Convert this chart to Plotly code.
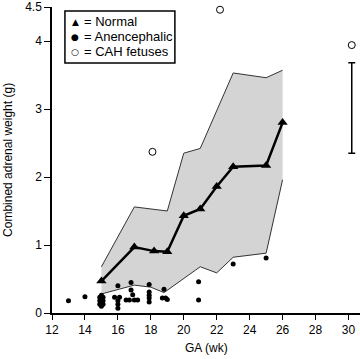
import plotly.graph_objects as go

# Normal fetuses (mean line with triangles)
normal_ga = [15, 17, 18.2, 19, 20, 21, 22, 23, 25, 26]
normal_wt = [0.47, 0.97, 0.91, 0.90, 1.43, 1.53, 1.86, 2.15, 2.17, 2.80]

# Normal range band
upper_ga = [15, 17, 19, 20, 21, 23, 25, 26]
upper_wt = [0.68, 1.56, 1.50, 2.35, 2.42, 3.53, 3.46, 3.57]
lower_ga = [15, 17, 18, 18.8, 21, 22, 23, 25, 26]
lower_wt = [0.28, 0.41, 0.38, 0.30, 0.68, 0.59, 0.82, 0.88, 1.96]

# Anencephalic fetuses
anen_ga = [13, 14, 15, 14.9, 15.1, 14.9, 15.1, 14.9, 15.1, 15,
           16, 15.8, 16.1, 16, 16, 16, 16.5,
           16.8, 16.8, 16.9, 16.7, 17.0, 17.2,
           17.9, 17.9, 17.9, 17.9, 17.9,
           18.8, 18.7, 18.9, 19.0,
           20.9, 20.9, 23, 25]
anen_wt = [0.18, 0.24, 0.26, 0.23, 0.23, 0.18, 0.18, 0.13, 0.13, 0.10,
           0.40, 0.23, 0.23, 0.18, 0.13, 0.07, 0.19,
           0.45, 0.34, 0.27, 0.19, 0.19, 0.19,
           0.42, 0.31, 0.26, 0.22, 0.16,
           0.35, 0.22, 0.22, 0.20,
           0.46, 0.19, 0.72, 0.81]

# CAH fetuses
cah_ga = [18.1, 22.2, 30.2]
cah_wt = [2.37, 4.46, 3.94]

# CAH range bar
bar_ga = [30.2]
bar_mid = [3.015]
bar_half = [0.665]

y_ticks = [0, 1, 2, 3, 4, 4.5]
y_ticktext = ["0", "1", "2", "3", "4", "4.5"]
x_ticks = [12, 14, 16, 18, 20, 22, 24, 26, 28, 30]

legend_symbols = ["▲", "●", "○"]
legend_labels = ["= Normal", "= Anencephalic", "= CAH fetuses"]

font = "Liberation Sans, Arial, sans-serif"

fig = go.Figure()
fig.add_trace(go.Scatter(
    x=upper_ga + lower_ga[::-1], y=upper_wt + lower_wt[::-1],
    fill="toself", fillcolor="#d4d4d4", mode="none", hoverinfo="skip"))
fig.add_trace(go.Scatter(x=upper_ga, y=upper_wt, mode="lines",
                         line=dict(color="#333333", width=1)))
fig.add_trace(go.Scatter(x=lower_ga, y=lower_wt, mode="lines",
                         line=dict(color="#333333", width=1)))
fig.add_trace(go.Scatter(x=normal_ga, y=normal_wt, mode="lines+markers",
                         line=dict(color="black", width=2.5),
                         marker=dict(symbol="triangle-up", size=9, color="black")))
fig.add_trace(go.Scatter(x=anen_ga, y=anen_wt, mode="markers",
                         marker=dict(symbol="circle", size=5, color="black")))
fig.add_trace(go.Scatter(x=cah_ga, y=cah_wt, mode="markers", cliponaxis=False,
                         marker=dict(symbol="circle-open", size=7, color="black",
                                     line=dict(width=1))))
fig.add_trace(go.Scatter(x=bar_ga, y=bar_mid, mode="markers",
                         marker=dict(size=1, color="rgba(0,0,0,0)"),
                         error_y=dict(type="data", array=bar_half, symmetric=True,
                                      color="black", thickness=1.5, width=3.5)))

# legend box
fig.add_shape(type="rect", xref="paper", yref="paper",
              x0=0.042, x1=0.399, y0=0.817, y1=0.987,
              line=dict(color="black", width=1.5), fillcolor="white", layer="above")
row_y = [0.951, 0.902, 0.853]
sym_size = [9, 9, 9]
for sym, lab, yy, ss in zip(legend_symbols, legend_labels, row_y, sym_size):
    fig.add_annotation(xref="paper", yref="paper", x=0.075, y=yy,
                       xanchor="center", yanchor="middle", text=sym, showarrow=False,
                       font=dict(family="DejaVu Sans", size=ss, color="black"))
    fig.add_annotation(xref="paper", yref="paper", x=0.097, y=yy,
                       xanchor="left", yanchor="middle", text=lab, showarrow=False,
                       font=dict(family=font, size=13, color="black"))

fig.add_annotation(
    xref="paper", yref="paper", x=0.5, y=-0.114, xanchor="center", yanchor="middle",
    text="GA (wk)", showarrow=False, font=dict(family=font, size=12, color="black"))
fig.add_annotation(
    xref="paper", yref="paper", x=-0.143, y=0.5, xanchor="center", yanchor="middle",
    text="Combined adrenal weight (g)", textangle=-90, showarrow=False,
    font=dict(family=font, size=12, color="black"))

fig.update_layout(
    width=360, height=359,
    margin=dict(l=52, r=0, t=7, b=46),
    paper_bgcolor="white", plot_bgcolor="white",
    showlegend=False,
    font=dict(family=font, size=12, color="black"),
    xaxis=dict(range=[12, 30.7], tickvals=x_ticks, ticks="outside", ticklen=5,
               tickwidth=1.2, tickcolor="black", showline=True, linecolor="black",
               linewidth=1.5, showgrid=False, zeroline=False, automargin=False),
    yaxis=dict(range=[0, 4.5], tickvals=y_ticks, ticktext=y_ticktext,
               ticks="outside", ticklen=6, tickwidth=1.2, tickcolor="black",
               showline=True, linecolor="black", linewidth=1.5,
               showgrid=False, zeroline=False, automargin=False),
)

fig.write_html("out.html", config={"displayModeBar": False},
               post_script="document.body.style.margin='0';document.body.style.overflow='hidden';")
